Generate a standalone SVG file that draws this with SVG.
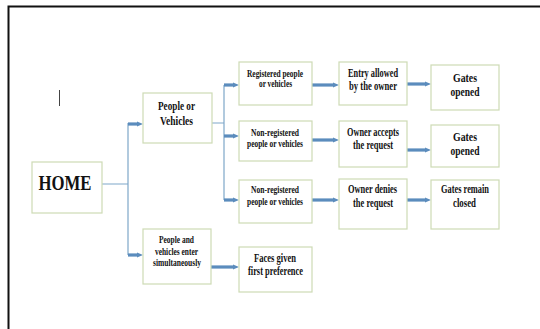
<svg xmlns="http://www.w3.org/2000/svg" width="540" height="329" viewBox="0 0 540 329">
<style>
.box{fill:#fff;stroke:#cddbb5;stroke-width:1.2}
.t{font-family:"Liberation Serif","Times New Roman",serif;font-weight:bold;fill:#111;text-anchor:middle}
.s9{font-size:10.5px}
.s11{font-size:12.5px}
.thin{fill:none;stroke:#7ea7c9;stroke-width:1.2}
.arr{fill:none;stroke:#5b8cbd;stroke-width:3.2;marker-end:url(#ah)}
</style>
<defs>
<marker id="ah" viewBox="0 0 6 6" refX="0" refY="3" markerWidth="6" markerHeight="6" markerUnits="userSpaceOnUse" orient="auto">
<path d="M0,0.5 L6,3 L0,5.5 z" fill="#5b8cbd"/>
</marker>
</defs>
<rect x="0" y="0" width="540" height="329" fill="#fff"/>
<path d="M8.5,340 V6.5 H550" fill="none" stroke="#111" stroke-width="2"/>
<line x1="59.5" y1="90" x2="59.5" y2="106" stroke="#444" stroke-width="1"/>

<g id="connectors">
<path class="thin" d="M102,184 H128 M128,123 V255 M212,123 H224 M224,85 V200"/>
<path class="arr" d="M128,124 H137"/>
<path class="arr" d="M128,255 H137"/>
<path class="arr" d="M224,85 H233"/>
<path class="arr" d="M224,136 H233"/>
<path class="arr" d="M224,200 H233"/>
<path class="arr" d="M312,85 H333"/>
<path class="arr" d="M312,140 H333"/>
<path class="arr" d="M312,200 H333"/>
<path class="arr" d="M407,84 H425"/>
<path class="arr" d="M407,150 H425"/>
<path class="arr" d="M407,200 H425"/>
<path class="arr" d="M211,267 H233"/>
</g>

<g id="home">
<rect class="box" x="32" y="162" width="70" height="51"/>
<text class="t" x="65" y="190" font-size="20" textLength="53" lengthAdjust="spacingAndGlyphs">HOME</text>
</g>
<g id="people-vehicles">
<rect class="box" x="143" y="93" width="69" height="50"/>
<text class="t" x="176.5" y="110" font-size="12" textLength="37" lengthAdjust="spacingAndGlyphs">People or</text>
<text class="t" x="176.5" y="125" font-size="12" textLength="33" lengthAdjust="spacingAndGlyphs">Vehicles</text>
</g>
<g id="registered">
<rect class="box" x="239" y="62" width="73" height="43"/>
<text class="t s9" x="275" y="77" textLength="56" lengthAdjust="spacingAndGlyphs">Registered people</text>
<text class="t s9" x="275.5" y="87" textLength="33" lengthAdjust="spacingAndGlyphs">or vehicles</text>
</g>
<g id="nonreg1">
<rect class="box" x="239" y="121" width="73" height="40"/>
<text class="t s9" x="275" y="136" textLength="48" lengthAdjust="spacingAndGlyphs">Non-registered</text>
<text class="t s9" x="275" y="147" textLength="56" lengthAdjust="spacingAndGlyphs">people or vehicles</text>
</g>
<g id="nonreg2">
<rect class="box" x="239" y="180" width="73" height="43"/>
<text class="t s9" x="275" y="193" textLength="48" lengthAdjust="spacingAndGlyphs">Non-registered</text>
<text class="t s9" x="275" y="205" textLength="56" lengthAdjust="spacingAndGlyphs">people or vehicles</text>
</g>
<g id="entry-allowed">
<rect class="box" x="339" y="62" width="68" height="43"/>
<text class="t s11" x="373" y="77" textLength="50" lengthAdjust="spacingAndGlyphs">Entry allowed</text>
<text class="t s11" x="373" y="90" textLength="48" lengthAdjust="spacingAndGlyphs">by the owner</text>
</g>
<g id="owner-accepts">
<rect class="box" x="339" y="121" width="68" height="46"/>
<text class="t s11" x="373" y="136" textLength="52" lengthAdjust="spacingAndGlyphs">Owner accepts</text>
<text class="t s11" x="373" y="149" textLength="40" lengthAdjust="spacingAndGlyphs">the request</text>
</g>
<g id="owner-denies">
<rect class="box" x="339" y="179" width="68" height="50"/>
<text class="t s11" x="372.5" y="193" textLength="49" lengthAdjust="spacingAndGlyphs">Owner denies</text>
<text class="t s11" x="373" y="207" textLength="40" lengthAdjust="spacingAndGlyphs">the request</text>
</g>
<g id="gates-opened-1">
<rect class="box" x="431" y="65" width="68" height="45"/>
<text class="t s11" x="465" y="82" textLength="24" lengthAdjust="spacingAndGlyphs">Gates</text>
<text class="t s11" x="465" y="96" textLength="29" lengthAdjust="spacingAndGlyphs">opened</text>
</g>
<g id="gates-opened-2">
<rect class="box" x="431" y="125" width="68" height="42"/>
<text class="t s11" x="465" y="141" textLength="24" lengthAdjust="spacingAndGlyphs">Gates</text>
<text class="t s11" x="465" y="155" textLength="29" lengthAdjust="spacingAndGlyphs">opened</text>
</g>
<g id="gates-closed">
<rect class="box" x="431" y="180" width="68" height="49"/>
<text class="t s11" x="465" y="193" textLength="48" lengthAdjust="spacingAndGlyphs">Gates remain</text>
<text class="t s11" x="464.5" y="207" textLength="23" lengthAdjust="spacingAndGlyphs">closed</text>
</g>
<g id="simultaneous">
<rect class="box" x="143" y="229" width="68" height="55"/>
<text class="t s9" x="176.5" y="243" textLength="35" lengthAdjust="spacingAndGlyphs">People and</text>
<text class="t s9" x="176.5" y="255" textLength="43" lengthAdjust="spacingAndGlyphs">vehicles enter</text>
<text class="t s9" x="177" y="266" textLength="48" lengthAdjust="spacingAndGlyphs">simultaneously</text>
</g>
<g id="faces">
<rect class="box" x="239" y="247" width="73" height="45"/>
<text class="t s11" x="275" y="262" textLength="42" lengthAdjust="spacingAndGlyphs">Faces given</text>
<text class="t s11" x="275.5" y="275" textLength="55" lengthAdjust="spacingAndGlyphs">first preference</text>
</g>
</svg>
